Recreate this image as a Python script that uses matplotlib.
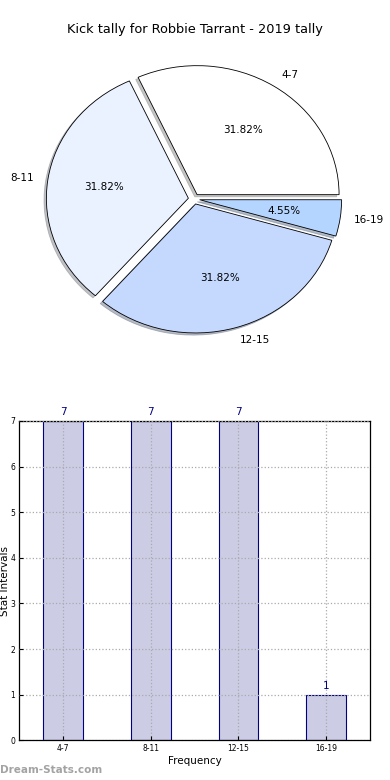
import matplotlib
matplotlib.use("Agg")
import matplotlib.pyplot as plt

categories = ["4-7", "8-11", "12-15", "16-19"]
counts = [7, 7, 7, 1]
pie_colors = ["#FFFFFF", "#EBF2FF", "#C5D9FF", "#B4D5FF"]
explode = [0.04, 0.04, 0.04, 0.04]
title = "Kick tally for Robbie Tarrant - 2019 tally"

plt.rcParams['font.family'] = ['DejaVu Sans']
fig = plt.figure(figsize=(3.9, 7.8), dpi=100)

# Pie
W, H = 390.0, 780.0
cx, cy = 194.0, 199.0
rx, ry = 142.0, 129.0
lim = 1.25
axp = fig.add_axes([(cx - lim * rx) / W, (H - cy - lim * ry) / H,
                    2 * lim * rx / W, 2 * lim * ry / H])
wedges, texts, autotexts = axp.pie(
    counts, labels=categories, colors=pie_colors, explode=explode,
    autopct='%.2f%%', startangle=0,
    shadow={'ox': -0.012, 'oy': -0.012, 'shade': 0.45},
    pctdistance=0.6,
    labeldistance=1.1, wedgeprops=dict(edgecolor='black', linewidth=0.6),
    textprops=dict(fontsize=7.5))
axp.set_aspect('auto')
axp.set_xlim(-lim, lim)
axp.set_ylim(-lim, lim)
axp.axis('off')
fig.text(0.5, (H - 30) / H, title, ha='center', va='center', fontsize=9.3)

# Bars
axb = fig.add_axes([19.3 / W, (H - 740.3) / H, (370 - 19.3) / W, (740.3 - 421) / H])
x = list(range(len(categories)))
bars = axb.bar(x, counts, width=0.45, color='#CCCCE5', edgecolor='#000080', linewidth=0.8)
axb.set_xlim(-0.5, 3.5)
axb.set_ylim(0, 7)
axb.set_xticks(x)
axb.set_xticklabels(categories)
axb.set_yticks(range(0, 8))
axb.tick_params(labelsize=5.5, direction='in', length=3, pad=3)
axb.grid(True, linestyle=':', color='#AAAAAA', linewidth=0.9)
axb.set_axisbelow(False)
for xi, v in zip(x, counts):
    axb.text(xi, v + 0.08, str(v), ha='center', va='bottom', color='#000080', fontsize=7.5)
axb.set_xlabel('Frequency', fontsize=7.5, labelpad=2)
axb.set_ylabel('Stat Intervals', fontsize=7.5)
axb.yaxis.set_label_coords(-9.5 / (370 - 19.3), 0.5)
for s in axb.spines.values():
    s.set_linewidth(0.9)

fig.text(0.0, (H - 770) / H, 'Dream-Stats.com', ha='left', va='center',
         fontsize=7.5, color='#999999', fontweight='bold', alpha=0.9)

fig.savefig('out.png', dpi=100)
